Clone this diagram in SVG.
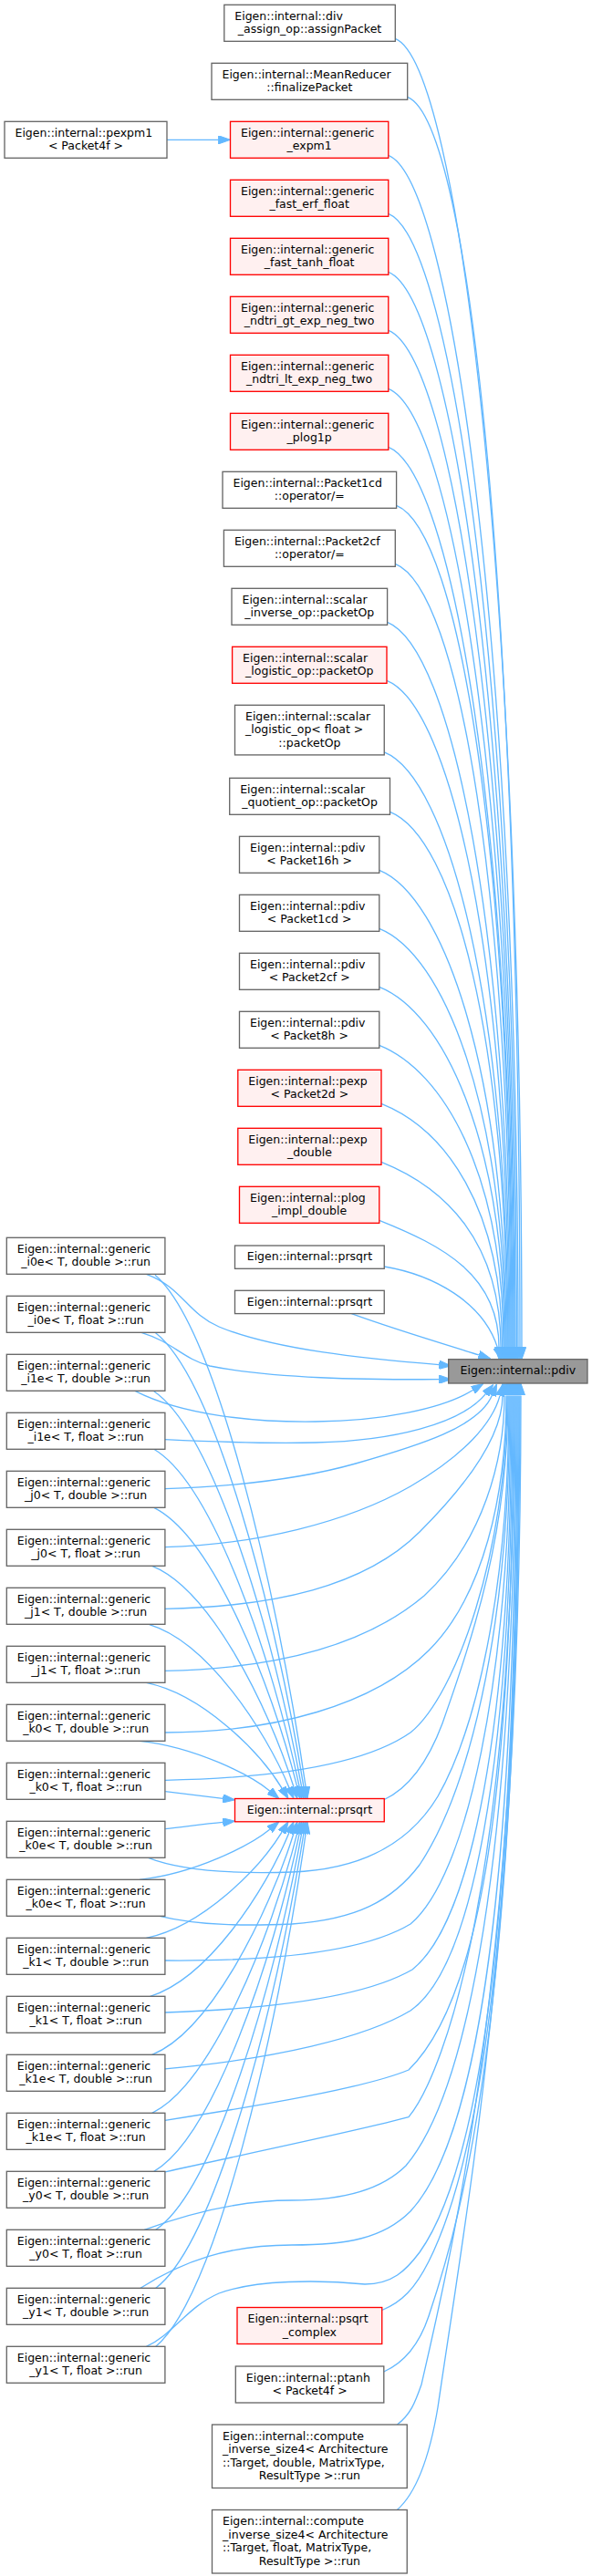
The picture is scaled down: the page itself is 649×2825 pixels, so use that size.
<svg xmlns="http://www.w3.org/2000/svg" width="649" height="2825" viewBox="0 0 649 2825">
<defs>
<style>
rect{stroke-width:1.33}
.n rect{fill:#ffffff;stroke:#666666}
.r rect{fill:#fff0f0;stroke:#ff0000}
.m rect{fill:#999999;stroke:#666666}
text{font-family:'DejaVu Sans',Verdana,sans-serif;font-size:12.5px;fill:#000000}
.c{text-anchor:middle}
#edges path{fill:none;stroke:#63b8ff;stroke-width:1.33;marker-end:url(#a)}
</style>
<marker id="a" viewBox="0 0 13.3 9.4" markerWidth="13.3" markerHeight="9.4" refX="0" refY="4.7" orient="auto" markerUnits="userSpaceOnUse">
<path d="M0,0 L13.3,4.7 L0,9.4 z" fill="#63b8ff" stroke="#63b8ff" stroke-width="1"/>
</marker>
</defs>
<rect x="0" y="0" width="649" height="2825" fill="#ffffff"/>
<g id="edges">
<path d="M183,153.3 L239.2,153.3"/>
<path d="M433.3,42.3 C503.3,70.3 572,646.8 572,1477.4"/>
<path d="M446.7,106.3 C516.7,134.3 570,683.9 570,1477.4"/>
<path d="M425.8,170.3 C495.8,198.3 568,721 568,1477.4"/>
<path d="M425.8,234.3 C495.8,262.3 566.5,758.1 566.5,1477.4"/>
<path d="M425.8,298.3 C495.8,326.3 565,795.3 565,1477.4"/>
<path d="M425.8,362.3 C495.8,390.3 564,832.4 564,1477.4"/>
<path d="M425.8,426.3 C495.8,454.3 563,869.5 563,1477.4"/>
<path d="M425.8,490.3 C495.8,518.3 562,906.6 562,1477.4"/>
<path d="M434.6,554.3 C504.6,582.3 561,943.7 561,1477.4"/>
<path d="M433.3,618.3 C503.3,646.3 560,980.9 560,1477.4"/>
<path d="M424.6,682.3 C494.6,710.3 559,1018 559,1477.4"/>
<path d="M424,746.3 C494,774.3 558,1055.1 558,1477.4"/>
<path d="M421.25,824.9 C491.25,852.9 557,1100.7 557,1477.4"/>
<path d="M427.5,890.3 C497.5,918.3 556,1138.6 556,1477.4"/>
<path d="M415.8,954.3 C485.8,982.3 555,1175.7 555,1477.4"/>
<path d="M415.8,1018.3 C485.8,1046.3 554,1212.9 554,1477.4"/>
<path d="M415.8,1082.3 C485.8,1110.3 553,1250 553,1477.4"/>
<path d="M415.8,1146.3 C485.8,1174.3 552,1287.1 552,1477.4"/>
<path d="M418,1210.3 C488,1238.3 550.5,1324.2 550.5,1477.4"/>
<path d="M418,1274.3 C488,1302.3 549,1361.3 549,1477.4"/>
<path d="M415.8,1338.3 C485.8,1366.3 547,1398.5 547,1477.4"/>
<path d="M421.25,1389 C475,1398 530,1428 545.5,1478.1"/>
<path d="M385.4,1440.7 C430,1457 480,1472 524.85,1485.9"/>
<path d="M170,1398.3 C236.8,1455.7 303.6,1742.8 335.1,1959.3"/>
<path d="M170,1461.3 C236,1512.4 302,1768 332.9,1959.4"/>
<path d="M168.75,1525.7 C234.5,1570.4 300.2,1793.8 330.6,1959.4"/>
<path d="M168.75,1589.3 C233.65,1627.6 298.55,1819.2 328.2,1959.5"/>
<path d="M168.75,1653.3 C232.85,1685.2 296.95,1844.8 325.8,1959.6"/>
<path d="M166.7,1717.3 C230.4,1742.8 294.1,1870.4 322,1959.8"/>
<path d="M163.75,1781.7 C227.05,1800.8 290.35,1896.2 316.9,1960.2"/>
<path d="M160.4,1845.3 C222.6,1858 284.9,1921.6 309.1,1961.1"/>
<path d="M153,1909.3 C214.2,1915.6 275.4,1947.2 295.7,1964"/>
<path d="M181.25,1964.7 C205,1967.5 225,1970 244.3,1972.3"/>
<path d="M181.25,2005.7 C205,2003 225,2000.2 244.3,1998.4"/>
<path d="M153,2061.3 C214.2,2054.7 275.4,2023.1 295.7,2006.3"/>
<path d="M160.4,2125.3 C222.6,2112.3 284.9,2048.7 309.1,2009.2"/>
<path d="M164.6,2189.3 C227.6,2169.9 290.5,2074.3 316.9,2010.1"/>
<path d="M166.7,2253.3 C230.4,2227.7 294.1,2100 322,2010.5"/>
<path d="M166.7,2317.3 C231.6,2285.6 296.5,2125.7 325.7,2010.7"/>
<path d="M168.75,2381.3 C233.65,2343.6 298.55,2151.5 328.2,2010.8"/>
<path d="M170.8,2445.3 C235.7,2400.8 300.6,2176.9 330.6,2010.9"/>
<path d="M170.8,2509.3 C236.5,2459.1 302.2,2202.8 332.9,2010.9"/>
<path d="M170.8,2573.3 C237.3,2517.1 303.8,2228.6 335.1,2011"/>
<path d="M160.4,1397.3 C200,1412 205,1440 240,1455 C300,1480 400,1490 481.3,1496.7"/>
<path d="M155,1461.3 C190,1472 200,1490 230,1498 C300,1512 400,1513 481.3,1512.7"/>
<path d="M148,1525.3 C200,1552 280,1560 346,1559 C420,1558 485,1545 518.4,1524.5"/>
<path d="M180.9,1578.7 C250,1582 300,1583 346,1582 C430,1580 505,1562 532.4,1528.6"/>
<path d="M180.9,1632.7 C260,1630 330,1622 390,1605 C460,1585 525,1565 539.5,1530.1"/>
<path d="M180.9,1696.7 C280,1694 380,1670 450,1630 C510,1595 540,1560 548,1530.6"/>
<path d="M180.9,1764.3 C300,1762 400,1740 460,1680 C520,1620 551,1570 551,1530.4"/>
<path d="M180.9,1832.3 C300,1830 400,1805 465,1750 C530,1690 553,1600 553,1530.4"/>
<path d="M180.9,1900 C300,1900 410,1870 470,1810 C530,1750 555,1640 555,1530.4"/>
<path d="M180.9,1952.3 C300,1950 400,1935 450,1900 C500,1860 556,1700 556,1530.4"/>
<path d="M162.5,2037.3 C200,2052 260,2055 320,2053 C400,2050 450,2020 480,1970 C520,1900 558,1750 558,1530.4"/>
<path d="M175,2101.3 C220,2112 270,2112 320,2110 C390,2105 430,2085 460,2045 C510,1970 559,1800 559,1530.4"/>
<path d="M180.9,2150 C300,2151 400,2140 450,2110 C510,2060 560,1850 560,1530.4"/>
<path d="M180.9,2207 C300,2203 400,2190 452,2160 C515,2110 561,1900 561,1530.4"/>
<path d="M180.9,2268.8 C300,2258 400,2235 450,2205 C515,2160 562,1950 562,1530.4"/>
<path d="M180.9,2325.3 C280,2310 400,2290 448,2270 C520,2200 563,2000 563,1530.4"/>
<path d="M180.9,2381.8 C280,2360 400,2335 448,2321.7 C490,2270 564,2050 564,1530.4"/>
<path d="M158.3,2445.3 C200,2430 260,2413 320,2413 C380,2413 420,2400 445,2375 C500,2310 565,2100 565,1530.4"/>
<path d="M154,2509.3 C200,2480 250,2462 320,2462 C380,2462 420,2455 450,2425 C510,2360 566,2150 566,1530.4"/>
<path d="M160.4,2573.3 C190,2560 205,2530 240,2515 C280,2500 350,2500 400,2505 C430,2505 445,2490 460,2470 C510,2400 567,2200 567,1530.4"/>
<path d="M421.25,1973.5 C450,1960 470,1930 485,1890 C520,1790 557,1680 557,1530.4"/>
<path d="M418.75,2533.5 C440,2525 455,2510 470,2480 C520,2380 568,2150 568,1530.4"/>
<path d="M420.8,2601 C445,2590 460,2570 470,2540 C510,2420 569,2200 569,1530.4"/>
<path d="M435.4,2659 C450,2648 455,2635 462,2615 C500,2450 570,2150 570,1530.4"/>
<path d="M435.4,2752.5 C455,2735 470,2700 480,2640 C515,2400 571,2100 571,1530.4"/>
</g>
<g id="main" class="m"><rect x="491.7" y="1490.7" width="152.3" height="26.3"/><text class="c" x="567.85" y="1507">Eigen::internal::pdiv</text></g>
<g id="n1" class="n"><rect x="245.8" y="5.3" width="187.5" height="40"/><text x="257.3" y="22">Eigen::internal::div</text><text class="c" x="339.55" y="36.3">_assign_op::assignPacket</text></g>
<g id="n2" class="n"><rect x="232" y="69.3" width="214.7" height="40"/><text x="243.5" y="86">Eigen::internal::MeanReducer</text><text class="c" x="339.35" y="100.3">::finalizePacket</text></g>
<g id="n3" class="r"><rect x="252.5" y="133.3" width="173.3" height="40"/><text x="264" y="150">Eigen::internal::generic</text><text class="c" x="339.15" y="164.3">_expm1</text></g>
<g id="n4" class="r"><rect x="252.5" y="197.3" width="173.3" height="40"/><text x="264" y="214">Eigen::internal::generic</text><text class="c" x="339.15" y="228.3">_fast_erf_float</text></g>
<g id="n5" class="r"><rect x="252.5" y="261.3" width="173.3" height="40"/><text x="264" y="278">Eigen::internal::generic</text><text class="c" x="339.15" y="292.3">_fast_tanh_float</text></g>
<g id="n6" class="r"><rect x="252.5" y="325.3" width="173.3" height="40"/><text x="264" y="342">Eigen::internal::generic</text><text class="c" x="339.15" y="356.3">_ndtri_gt_exp_neg_two</text></g>
<g id="n7" class="r"><rect x="252.5" y="389.3" width="173.3" height="40"/><text x="264" y="406">Eigen::internal::generic</text><text class="c" x="339.15" y="420.3">_ndtri_lt_exp_neg_two</text></g>
<g id="n8" class="r"><rect x="252.5" y="453.3" width="173.3" height="40"/><text x="264" y="470">Eigen::internal::generic</text><text class="c" x="339.15" y="484.3">_plog1p</text></g>
<g id="n9" class="n"><rect x="244" y="517.3" width="190.6" height="40"/><text x="255.5" y="534">Eigen::internal::Packet1cd</text><text class="c" x="339.3" y="548.3">::operator/=</text></g>
<g id="n10" class="n"><rect x="245.4" y="581.3" width="187.9" height="40"/><text x="256.9" y="598">Eigen::internal::Packet2cf</text><text class="c" x="339.35" y="612.3">::operator/=</text></g>
<g id="n11" class="n"><rect x="254" y="645.3" width="170.6" height="40"/><text x="265.5" y="662">Eigen::internal::scalar</text><text class="c" x="339.3" y="676.3">_inverse_op::packetOp</text></g>
<g id="n12" class="r"><rect x="254.6" y="709.3" width="169.4" height="40"/><text x="266.1" y="726">Eigen::internal::scalar</text><text class="c" x="339.3" y="740.3">_logistic_op::packetOp</text></g>
<g id="n13" class="n"><rect x="257.5" y="773.3" width="163.75" height="54.6"/><text x="269" y="790">Eigen::internal::scalar</text><text x="269" y="804.3">_logistic_op&lt; float &gt;</text><text class="c" x="339.4" y="818.6">::packetOp</text></g>
<g id="n14" class="n"><rect x="251.7" y="853.3" width="175.8" height="40"/><text x="263.2" y="870">Eigen::internal::scalar</text><text class="c" x="339.6" y="884.3">_quotient_op::packetOp</text></g>
<g id="n15" class="n"><rect x="262.5" y="917.3" width="153.3" height="40"/><text x="274" y="934">Eigen::internal::pdiv</text><text class="c" x="339.15" y="948.3">&lt; Packet16h &gt;</text></g>
<g id="n16" class="n"><rect x="262.5" y="981.3" width="153.3" height="40"/><text x="274" y="998">Eigen::internal::pdiv</text><text class="c" x="339.15" y="1012.3">&lt; Packet1cd &gt;</text></g>
<g id="n17" class="n"><rect x="262.5" y="1045.3" width="153.3" height="40"/><text x="274" y="1062">Eigen::internal::pdiv</text><text class="c" x="339.15" y="1076.3">&lt; Packet2cf &gt;</text></g>
<g id="n18" class="n"><rect x="262.5" y="1109.3" width="153.3" height="40"/><text x="274" y="1126">Eigen::internal::pdiv</text><text class="c" x="339.15" y="1140.3">&lt; Packet8h &gt;</text></g>
<g id="n19" class="r"><rect x="260.8" y="1173.3" width="157.2" height="40"/><text x="272.3" y="1190">Eigen::internal::pexp</text><text class="c" x="339.4" y="1204.3">&lt; Packet2d &gt;</text></g>
<g id="n20" class="r"><rect x="260.8" y="1237.3" width="157.2" height="40"/><text x="272.3" y="1254">Eigen::internal::pexp</text><text class="c" x="339.4" y="1268.3">_double</text></g>
<g id="n21" class="r"><rect x="262.5" y="1301.3" width="153.3" height="40"/><text x="274" y="1318">Eigen::internal::plog</text><text class="c" x="339.15" y="1332.3">_impl_double</text></g>
<g id="n22" class="n"><rect x="257.5" y="1366" width="163.75" height="25.3"/><text class="c" x="339.4" y="1382.3">Eigen::internal::prsqrt</text></g>
<g id="n23" class="n"><rect x="257.5" y="1415.3" width="163.75" height="25.3"/><text class="c" x="339.4" y="1431.6">Eigen::internal::prsqrt</text></g>
<g id="n24" class="r"><rect x="257.5" y="1972.5" width="163.75" height="25.3"/><text class="c" x="339.4" y="1988.8">Eigen::internal::prsqrt</text></g>
<g id="n25" class="r"><rect x="260" y="2530.5" width="158.75" height="40"/><text x="271.5" y="2547.2">Eigen::internal::psqrt</text><text class="c" x="339.4" y="2561.5">_complex</text></g>
<g id="n26" class="n"><rect x="258.3" y="2595" width="162.5" height="40"/><text x="269.8" y="2611.7">Eigen::internal::ptanh</text><text class="c" x="339.55" y="2626">&lt; Packet4f &gt;</text></g>
<g id="n27" class="n"><rect x="232.5" y="2659" width="213.75" height="69.5"/><text x="244" y="2675.9">Eigen::internal::compute</text><text x="244" y="2690.4">_inverse_size4&lt; Architecture</text><text x="244" y="2704.9">::Target, double, MatrixType,</text><text class="c" x="339.4" y="2719.4">ResultType &gt;::run</text></g>
<g id="n28" class="n"><rect x="232.5" y="2752.5" width="213.75" height="69.5"/><text x="244" y="2769.4">Eigen::internal::compute</text><text x="244" y="2783.9">_inverse_size4&lt; Architecture</text><text x="244" y="2798.4">::Target, float, MatrixType,</text><text class="c" x="339.4" y="2812.9">ResultType &gt;::run</text></g>
<g id="p1" class="n"><rect x="5" y="133.3" width="178" height="40"/><text x="16.5" y="150">Eigen::internal::pexpm1</text><text class="c" x="94" y="164.3">&lt; Packet4f &gt;</text></g>
<g id="L1" class="n"><rect x="7.3" y="1357.3" width="173.6" height="40"/><text x="18.8" y="1374">Eigen::internal::generic</text><text class="c" x="94.1" y="1388.3">_i0e&lt; T, double &gt;::run</text></g>
<g id="L2" class="n"><rect x="7.3" y="1421.3" width="173.6" height="40"/><text x="18.8" y="1438">Eigen::internal::generic</text><text class="c" x="94.1" y="1452.3">_i0e&lt; T, float &gt;::run</text></g>
<g id="L3" class="n"><rect x="7.3" y="1485.3" width="173.6" height="40"/><text x="18.8" y="1502">Eigen::internal::generic</text><text class="c" x="94.1" y="1516.3">_i1e&lt; T, double &gt;::run</text></g>
<g id="L4" class="n"><rect x="7.3" y="1549.3" width="173.6" height="40"/><text x="18.8" y="1566">Eigen::internal::generic</text><text class="c" x="94.1" y="1580.3">_i1e&lt; T, float &gt;::run</text></g>
<g id="L5" class="n"><rect x="7.3" y="1613.3" width="173.6" height="40"/><text x="18.8" y="1630">Eigen::internal::generic</text><text class="c" x="94.1" y="1644.3">_j0&lt; T, double &gt;::run</text></g>
<g id="L6" class="n"><rect x="7.3" y="1677.3" width="173.6" height="40"/><text x="18.8" y="1694">Eigen::internal::generic</text><text class="c" x="94.1" y="1708.3">_j0&lt; T, float &gt;::run</text></g>
<g id="L7" class="n"><rect x="7.3" y="1741.3" width="173.6" height="40"/><text x="18.8" y="1758">Eigen::internal::generic</text><text class="c" x="94.1" y="1772.3">_j1&lt; T, double &gt;::run</text></g>
<g id="L8" class="n"><rect x="7.3" y="1805.3" width="173.6" height="40"/><text x="18.8" y="1822">Eigen::internal::generic</text><text class="c" x="94.1" y="1836.3">_j1&lt; T, float &gt;::run</text></g>
<g id="L9" class="n"><rect x="7.3" y="1869.3" width="173.6" height="40"/><text x="18.8" y="1886">Eigen::internal::generic</text><text class="c" x="94.1" y="1900.3">_k0&lt; T, double &gt;::run</text></g>
<g id="L10" class="n"><rect x="7.3" y="1933.3" width="173.6" height="40"/><text x="18.8" y="1950">Eigen::internal::generic</text><text class="c" x="94.1" y="1964.3">_k0&lt; T, float &gt;::run</text></g>
<g id="L11" class="n"><rect x="7.3" y="1997.3" width="173.6" height="40"/><text x="18.8" y="2014">Eigen::internal::generic</text><text class="c" x="94.1" y="2028.3">_k0e&lt; T, double &gt;::run</text></g>
<g id="L12" class="n"><rect x="7.3" y="2061.3" width="173.6" height="40"/><text x="18.8" y="2078">Eigen::internal::generic</text><text class="c" x="94.1" y="2092.3">_k0e&lt; T, float &gt;::run</text></g>
<g id="L13" class="n"><rect x="7.3" y="2125.3" width="173.6" height="40"/><text x="18.8" y="2142">Eigen::internal::generic</text><text class="c" x="94.1" y="2156.3">_k1&lt; T, double &gt;::run</text></g>
<g id="L14" class="n"><rect x="7.3" y="2189.3" width="173.6" height="40"/><text x="18.8" y="2206">Eigen::internal::generic</text><text class="c" x="94.1" y="2220.3">_k1&lt; T, float &gt;::run</text></g>
<g id="L15" class="n"><rect x="7.3" y="2253.3" width="173.6" height="40"/><text x="18.8" y="2270">Eigen::internal::generic</text><text class="c" x="94.1" y="2284.3">_k1e&lt; T, double &gt;::run</text></g>
<g id="L16" class="n"><rect x="7.3" y="2317.3" width="173.6" height="40"/><text x="18.8" y="2334">Eigen::internal::generic</text><text class="c" x="94.1" y="2348.3">_k1e&lt; T, float &gt;::run</text></g>
<g id="L17" class="n"><rect x="7.3" y="2381.3" width="173.6" height="40"/><text x="18.8" y="2398">Eigen::internal::generic</text><text class="c" x="94.1" y="2412.3">_y0&lt; T, double &gt;::run</text></g>
<g id="L18" class="n"><rect x="7.3" y="2445.3" width="173.6" height="40"/><text x="18.8" y="2462">Eigen::internal::generic</text><text class="c" x="94.1" y="2476.3">_y0&lt; T, float &gt;::run</text></g>
<g id="L19" class="n"><rect x="7.3" y="2509.3" width="173.6" height="40"/><text x="18.8" y="2526">Eigen::internal::generic</text><text class="c" x="94.1" y="2540.3">_y1&lt; T, double &gt;::run</text></g>
<g id="L20" class="n"><rect x="7.3" y="2573.3" width="173.6" height="40"/><text x="18.8" y="2590">Eigen::internal::generic</text><text class="c" x="94.1" y="2604.3">_y1&lt; T, float &gt;::run</text></g>
</svg>
